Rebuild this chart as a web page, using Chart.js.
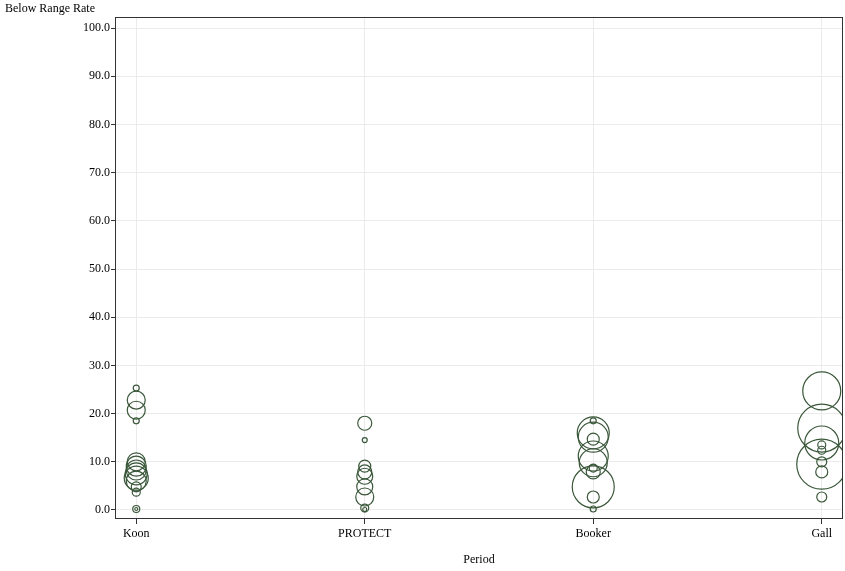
<!DOCTYPE html>
<html>
<head>
<meta charset="utf-8">
<script src="https://cdn.jsdelivr.net/npm/chart.js@4"></script>
<style>
  html, body { margin: 0; padding: 0; background: #fff; }
  #wrap { width: 845px; height: 571px; }
</style>
</head>
<body>
<div id="wrap"><canvas id="myBubbleChart"></canvas></div>
<script>
const categories = ['Koon', 'PROTECT', 'Booker', 'Gall'];

// below range rate (%) and bubble size for each study
const koonRates = [25.3, 22.8, 20.7, 18.5, 10.0, 9.1, 8.3, 7.5, 6.6, 6.0, 4.8, 3.7, 0.2, 0.2];
const koonSizes = [3, 9, 9, 3, 9, 10, 10, 11, 12, 10, 5, 4, 3.5, 1.5];
const protectRates = [18.0, 14.5, 9.1, 7.9, 7.0, 4.8, 2.7, 0.4, 0.1];
const protectSizes = [7, 2.5, 6, 7, 8, 8, 9, 4, 2];
const bookerRates = [18.5, 16.0, 15.1, 14.7, 11.2, 9.8, 8.7, 7.9, 4.8, 2.7, 0.2];
const bookerSizes = [3, 16, 15, 6, 15, 14, 4, 7, 21, 6, 3];
const gallRates = [24.7, 17.0, 13.9, 13.5, 12.4, 10.0, 9.5, 7.9, 2.7];
const gallSizes = [19, 24, 17, 4, 4, 5, 25, 6, 5];

const yTicks = [0, 10, 20, 30, 40, 50, 60, 70, 80, 90, 100];

const groups = [
    [koonRates, koonSizes],
    [protectRates, protectSizes],
    [bookerRates, bookerSizes],
    [gallRates, gallSizes]
];
const points = [];
groups.forEach(function (g, i) {
    g[0].forEach(function (v, j) {
        points.push({ x: i, y: v, r: g[1][j] });
    });
});

const serif = '"Liberation Serif", "DejaVu Serif", serif';

const framePlugin = {
    id: 'frame',
    afterDraw: function (chart) {
        const a = chart.chartArea;
        const ctx = chart.ctx;
        ctx.save();
        ctx.strokeStyle = '#333';
        ctx.lineWidth = 1;
        ctx.strokeRect(a.left + 0.5, a.top + 0.5, a.right - a.left - 1, a.bottom - a.top - 1);
        ctx.fillStyle = '#000';
        ctx.font = '12px ' + serif;
        ctx.textBaseline = 'middle';
        ctx.textAlign = 'left';
        ctx.fillText('Below Range Rate', 5, 9);
        ctx.restore();
    }
};

function noPadding(scale) {
    scale.paddingLeft = 0;
    scale.paddingRight = 0;
    scale.paddingTop = 0;
    scale.paddingBottom = 0;
}

const ctx = document.getElementById('myBubbleChart').getContext('2d');
const myBubbleChart = new Chart(ctx, {
    type: 'bubble',
    data: {
        datasets: [{
            label: 'Below Range Rate',
            data: points,
            backgroundColor: 'rgba(0, 0, 0, 0)',
            borderColor: '#3a573a',
            borderWidth: 1.2,
            hoverBorderWidth: 1.2
        }]
    },
    options: {
        responsive: true,
        maintainAspectRatio: false,
        animation: false,
        events: [],
        layout: {
            autoPadding: false,
            padding: { top: 17, right: 2, left: 0, bottom: 0 }
        },
        plugins: {
            legend: { display: false },
            tooltip: { enabled: false }
        },
        scales: {
            x: {
                type: 'linear',
                min: -0.093,
                max: 3.093,
                afterBuildTicks: function (scale) {
                    scale.ticks = categories.map(function (c, i) { return { value: i }; });
                },
                afterFit: function (scale) { scale.height = 52; noPadding(scale); },
                ticks: {
                    color: '#000',
                    font: { family: serif, size: 12 },
                    padding: 3,
                    maxRotation: 0,
                    callback: function (value) { return categories[value]; }
                },
                grid: {
                    color: '#ebebeb',
                    tickColor: '#333',
                    tickLength: 5
                },
                border: { display: false },
                title: {
                    display: true,
                    text: 'Period',
                    color: '#000',
                    font: { family: serif, size: 12 },
                    padding: { top: 8 }
                }
            },
            y: {
                min: -1.87,
                max: 102.3,
                afterBuildTicks: function (scale) {
                    scale.ticks = yTicks.map(function (v) { return { value: v }; });
                },
                afterFit: function (scale) { scale.width = 115; noPadding(scale); },
                ticks: {
                    color: '#000',
                    font: { family: serif, size: 12 },
                    padding: 1,
                    callback: function (value) { return value.toFixed(1); }
                },
                grid: {
                    color: '#ebebeb',
                    tickColor: '#333',
                    tickLength: 4
                },
                border: { display: false }
            }
        }
    },
    plugins: [framePlugin]
});
</script>
</body>
</html>
